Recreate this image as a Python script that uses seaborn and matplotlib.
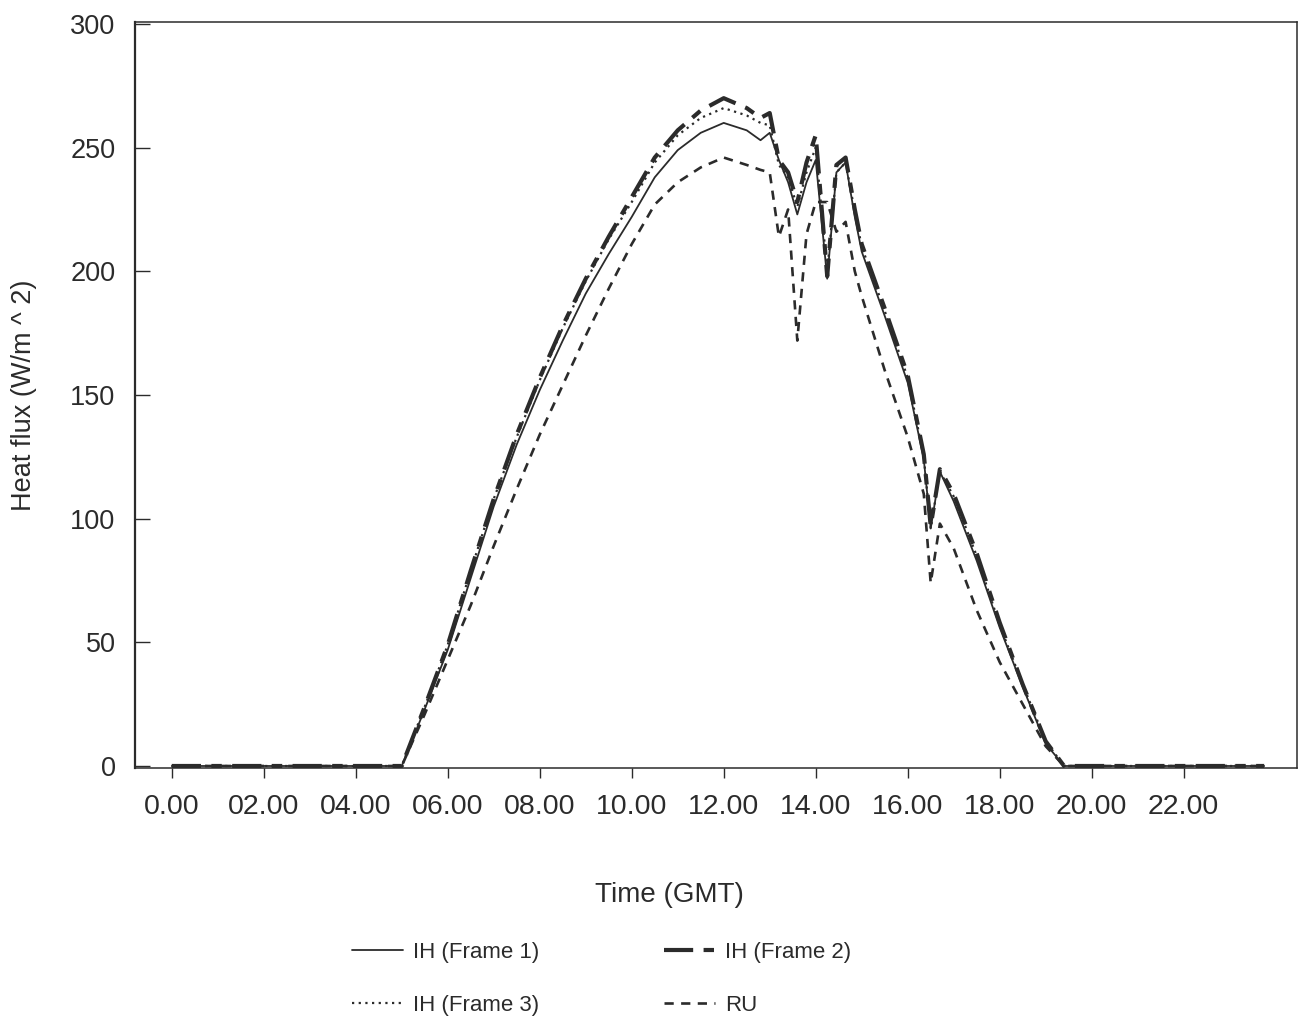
import matplotlib
matplotlib.use("Agg")
import matplotlib.pyplot as plt
import seaborn as sns
import numpy as np

# ---- data ----
time_h = [0, 1, 2, 3, 4, 5.0, 5.5, 6.0, 6.5, 7.0, 7.5, 8.0, 8.5, 9.0, 9.5,
          10.0, 10.5, 11.0, 11.5, 12.0, 12.5, 12.8, 13.0, 13.2, 13.4, 13.6,
          13.8, 14.0, 14.25, 14.45, 14.65, 14.85, 15.0, 15.5, 16.0, 16.35,
          16.5, 16.7, 17.0, 17.5, 18.0, 18.5, 19.0, 19.4, 20, 21, 22, 23, 23.75]

ih_frame1 = [0, 0, 0, 0, 0, 0, 23, 47, 76, 105, 130, 152, 172, 191, 207,
             222, 238, 249, 256, 260, 257, 253, 256, 245, 236, 223,
             236, 245, 197, 240, 244, 222, 208, 182, 155, 124,
             96, 119, 107, 83, 56, 32, 9, 0, 0, 0, 0, 0, 0]

ih_frame2 = [0, 0, 0, 0, 0, 0, 24, 49, 79, 108, 134, 157, 178, 197, 214,
             230, 246, 257, 265, 270, 266, 262, 264, 245, 240, 228,
             244, 255, 198, 243, 246, 225, 211, 185, 158, 126,
             97, 120, 110, 86, 58, 33, 10, 0, 0, 0, 0, 0, 0]

ih_frame3 = [0, 0, 0, 0, 0, 0, 24, 49, 79, 108, 133, 156, 177, 196, 213,
             228, 244, 255, 262, 266, 263, 260, 259, 243, 238, 226,
             240, 250, 200, 240, 244, 224, 210, 184, 157, 125,
             96, 119, 109, 85, 57, 33, 10, 0, 0, 0, 0, 0, 0]

ru = [0, 0, 0, 0, 0, 0, 21, 43, 65, 89, 112, 134, 154, 174, 193,
      211, 227, 236, 242, 246, 243, 241, 240, 214, 225, 172,
      215, 228, 228, 216, 220, 200, 190, 160, 133, 110,
      74, 98, 88, 63, 42, 25, 8, 0, 0, 0, 0, 0, 0]

xtick_pos = [0, 2, 4, 6, 8, 10, 12, 14, 16, 18, 20, 22]
xtick_labels = ["0.00", "02.00", "04.00", "06.00", "08.00", "10.00",
                "12.00", "14.00", "16.00", "18.00", "20.00", "22.00"]
ytick_pos = [0, 50, 100, 150, 200, 250, 300]

series_names = ["IH (Frame 1)", "IH (Frame 2)", "IH (Frame 3)", "RU"]

# ---- style ----
sns.set_theme(style="white")
plt.rcParams["font.family"] = ["Liberation Sans", "DejaVu Sans"]
ink = "#2b2b2b"

fig = plt.figure(figsize=(13.02, 10.23), dpi=100)
ax = fig.add_axes([0.1037, 0.2493, 0.8923, 0.7292])

styles = {
    "IH (Frame 1)": dict(lw=1.3, linestyle="-"),
    "IH (Frame 2)": dict(lw=3.0, linestyle=(0, (7, 2.5, 2.5, 2.5))),
    "IH (Frame 3)": dict(lw=1.6, linestyle=(0, (1, 2))),
    "RU": dict(lw=1.9, linestyle=(0, (3.5, 2.8))),
}
data = {"IH (Frame 1)": ih_frame1, "IH (Frame 2)": ih_frame2,
        "IH (Frame 3)": ih_frame3, "RU": ru}

handles = {}
for name in series_names:
    sns.lineplot(x=time_h, y=data[name], ax=ax, color=ink, estimator=None,
                 sort=False, label=name, **styles[name])
    handles[name] = ax.lines[-1]
if ax.get_legend() is not None:
    ax.get_legend().remove()

ax.set_xlim(-0.8, 24.46)
ax.set_ylim(-0.8, 300.8)
ax.set_xticks(xtick_pos)
ax.set_xticklabels(xtick_labels)
ax.set_yticks(ytick_pos)
ax.tick_params(axis="y", direction="in", length=11, width=1.0, color=ink,
               labelsize=19.5, labelcolor=ink, pad=14, left=True)
ax.tick_params(axis="x", direction="out", length=7, width=1.0, color=ink,
               labelsize=20.5, labelcolor=ink, pad=12, bottom=True)
for sp in ax.spines.values():
    sp.set_color(ink)
    sp.set_linewidth(1.1)
ax.spines["left"].set_linewidth(1.6)

ax.set_xlabel("Time (GMT)", fontsize=20, color=ink)
ax.xaxis.set_label_coords((670 - 135) / (1297 - 135), -(895 - 768) / (768 - 22),
                          transform=ax.transAxes)
ax.xaxis.label.set_va("center")
ax.set_ylabel("Heat flux (W/m ^ 2)", fontsize=19.5, color=ink, labelpad=24)

order = ["IH (Frame 1)", "IH (Frame 3)", "IH (Frame 2)", "RU"]
leg = fig.legend([handles[n] for n in order], order, loc="center",
                 bbox_to_anchor=(0.462, 0.043), ncol=2, frameon=False,
                 fontsize=16, handlelength=2.3, handletextpad=0.45,
                 columnspacing=5.6, labelspacing=1.45)
for t in leg.get_texts():
    t.set_color(ink)

fig.savefig("out.png", dpi=100, facecolor="white")
